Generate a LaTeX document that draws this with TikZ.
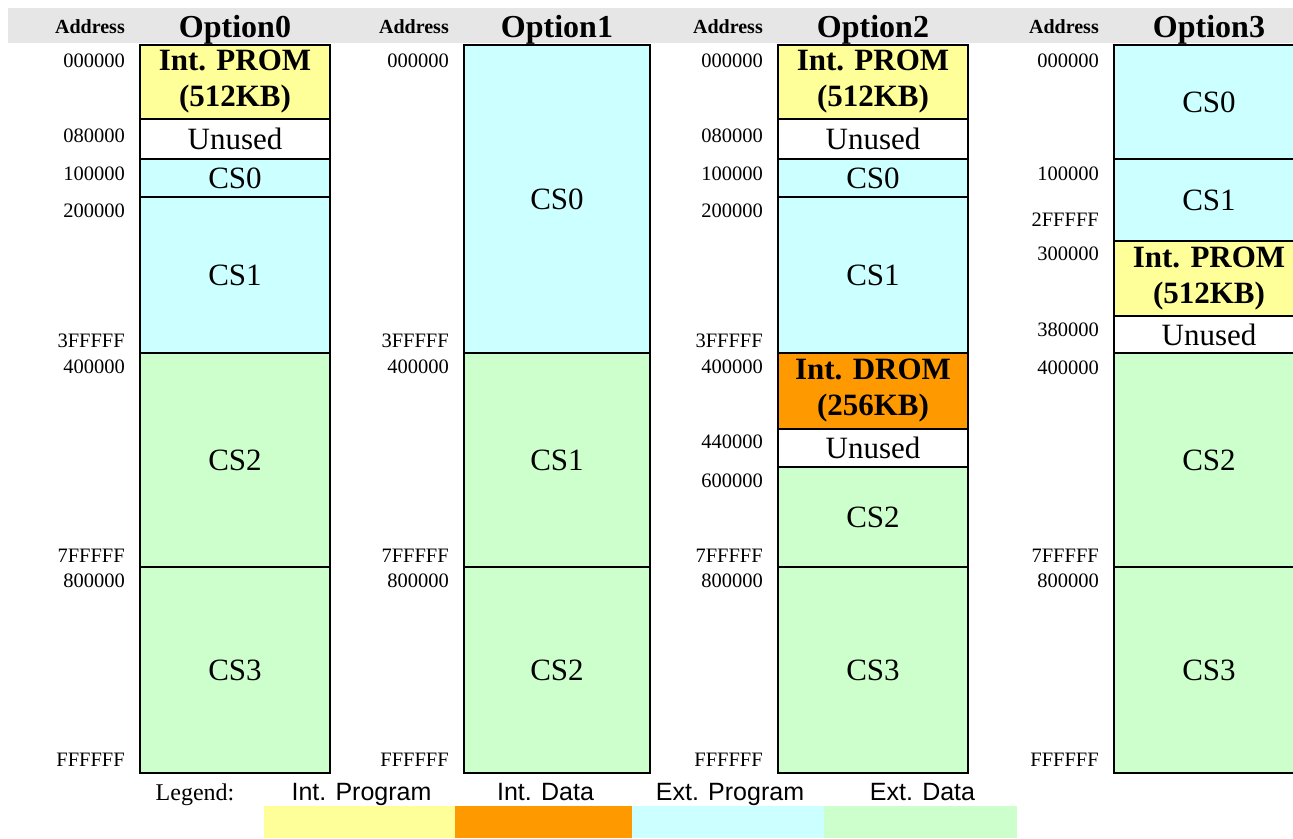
\documentclass[tikz,border=0pt]{standalone}
\usepackage{fontspec}
\setmainfont{Liberation Serif}
\newfontfamily\legendfont{Liberation Sans}
\definecolor{intprog}{HTML}{FFFF99}
\definecolor{intdata}{HTML}{FF9900}
\definecolor{extprog}{HTML}{CCFFFF}
\definecolor{extdata}{HTML}{CCFFCC}
\definecolor{headgray}{HTML}{E6E6E6}
\tikzset{
  memline/.style={line width=1.8pt},
  seglabel/.style={font=\fontsize{31}{36}\selectfont, align=center, inner sep=0pt},
  addr/.style={font=\fontsize{20.5}{22}\selectfont, anchor=base east, inner sep=0pt},
  headaddr/.style={font=\fontsize{20}{22}\selectfont\bfseries, anchor=base east, inner sep=0pt},
  headopt/.style={font=\fontsize{32}{34}\selectfont\bfseries, anchor=base, inner sep=0pt},
  legendhead/.style={font=\fontsize{24}{26}\selectfont, anchor=base, inner sep=0pt},
  legendtext/.style={font=\fontsize{25}{27}\selectfont\legendfont, anchor=base, inner sep=0pt}
}
\begin{document}
\begin{tikzpicture}[x=1pt, y=-1pt]
 \clip (0,0) rectangle (1293,838);
 \fill[headgray] (8,8) rectangle (1293,43);

 % column heads
 \foreach \xa/\xb/\n in {140/330/0, 464/650/1, 778/968/2, 1114/1304/3}
 {
  \node[headaddr] (head-addr-\n) at (\xa-15,33) {Address};
  \node[headopt] (head-opt-\n) at ({(\xa+\xb)/2},37) {Option\n};
 }

 % Option0
 \foreach \ya/\yb/\c/\t [count=\i] in {45/119/intprog/{\textbf{Int. PROM}\\\textbf{(512KB)}},
   119/159/white/Unused, 159/197/extprog/CS0, 197/353/extprog/CS1,
   353/567/extdata/CS2, 567/773/extdata/CS3}
 {
  \filldraw[fill=\c, memline] (140,\ya) rectangle (330,\yb);
  \node[seglabel] (opt0-\i) at (235,{(\ya+\yb)/2}) {\t};
 }
 \foreach \y/\t [count=\i] in {67/000000, 142/080000, 180/100000, 217/200000,
   347/3FFFFF, 373/400000, 562/7FFFFF, 587/800000, 766/FFFFFF}
 {
  \node[addr] (addr0-\i) at (125,\y) {\t};
 }

 % Option1
 \foreach \ya/\yb/\c/\t [count=\i] in {45/353/extprog/CS0, 353/567/extdata/CS1,
   567/773/extdata/CS2}
 {
  \filldraw[fill=\c, memline] (464,\ya) rectangle (650,\yb);
  \node[seglabel] (opt1-\i) at (557,{(\ya+\yb)/2}) {\t};
 }
 \foreach \y/\t [count=\i] in {67/000000, 347/3FFFFF, 373/400000, 562/7FFFFF,
   587/800000, 766/FFFFFF}
 {
  \node[addr] (addr1-\i) at (449,\y) {\t};
 }

 % Option2
 \foreach \ya/\yb/\c/\t [count=\i] in {45/119/intprog/{\textbf{Int. PROM}\\\textbf{(512KB)}},
   119/159/white/Unused, 159/197/extprog/CS0, 197/353/extprog/CS1,
   353/429/intdata/{\textbf{Int. DROM}\\\textbf{(256KB)}}, 429/467/white/Unused,
   467/567/extdata/CS2, 567/773/extdata/CS3}
 {
  \filldraw[fill=\c, memline] (778,\ya) rectangle (968,\yb);
  \node[seglabel] (opt2-\i) at (873,{(\ya+\yb)/2}) {\t};
 }
 \foreach \y/\t [count=\i] in {67/000000, 142/080000, 180/100000, 217/200000,
   347/3FFFFF, 373/400000, 448/440000, 487/600000, 562/7FFFFF, 587/800000,
   766/FFFFFF}
 {
  \node[addr] (addr2-\i) at (763,\y) {\t};
 }

 % Option3
 \foreach \ya/\yb/\c/\t [count=\i] in {45/159/extprog/CS0, 159/241/extprog/CS1,
   241/316/intprog/{\textbf{Int. PROM}\\\textbf{(512KB)}}, 316/353/white/Unused,
   353/567/extdata/CS2, 567/773/extdata/CS3}
 {
  \filldraw[fill=\c, memline] (1114,\ya) rectangle (1304,\yb);
  \node[seglabel] (opt3-\i) at (1209,{(\ya+\yb)/2}) {\t};
 }
 \foreach \y/\t [count=\i] in {67/000000, 180/100000, 226/2FFFFF, 260/300000,
   336/380000, 374/400000, 562/7FFFFF, 587/800000, 766/FFFFFF}
 {
  \node[addr] (addr3-\i) at (1099,\y) {\t};
 }

 % legend
 \node[legendhead] (legend) at (195,800) {Legend:};
 \foreach \xa/\xb/\c/\t [count=\i] in {264/455/intprog/Int. Program,
   455/632/intdata/Int. Data, 632/824/extprog/Ext. Program, 824/1017/extdata/Ext. Data}
 {
  \fill[\c] (\xa,806) rectangle (\xb,838);
  \node[legendtext] (legend-\i) at ({(\xa+\xb)/2+2},800) {\t};
 }
\end{tikzpicture}
\end{document}
